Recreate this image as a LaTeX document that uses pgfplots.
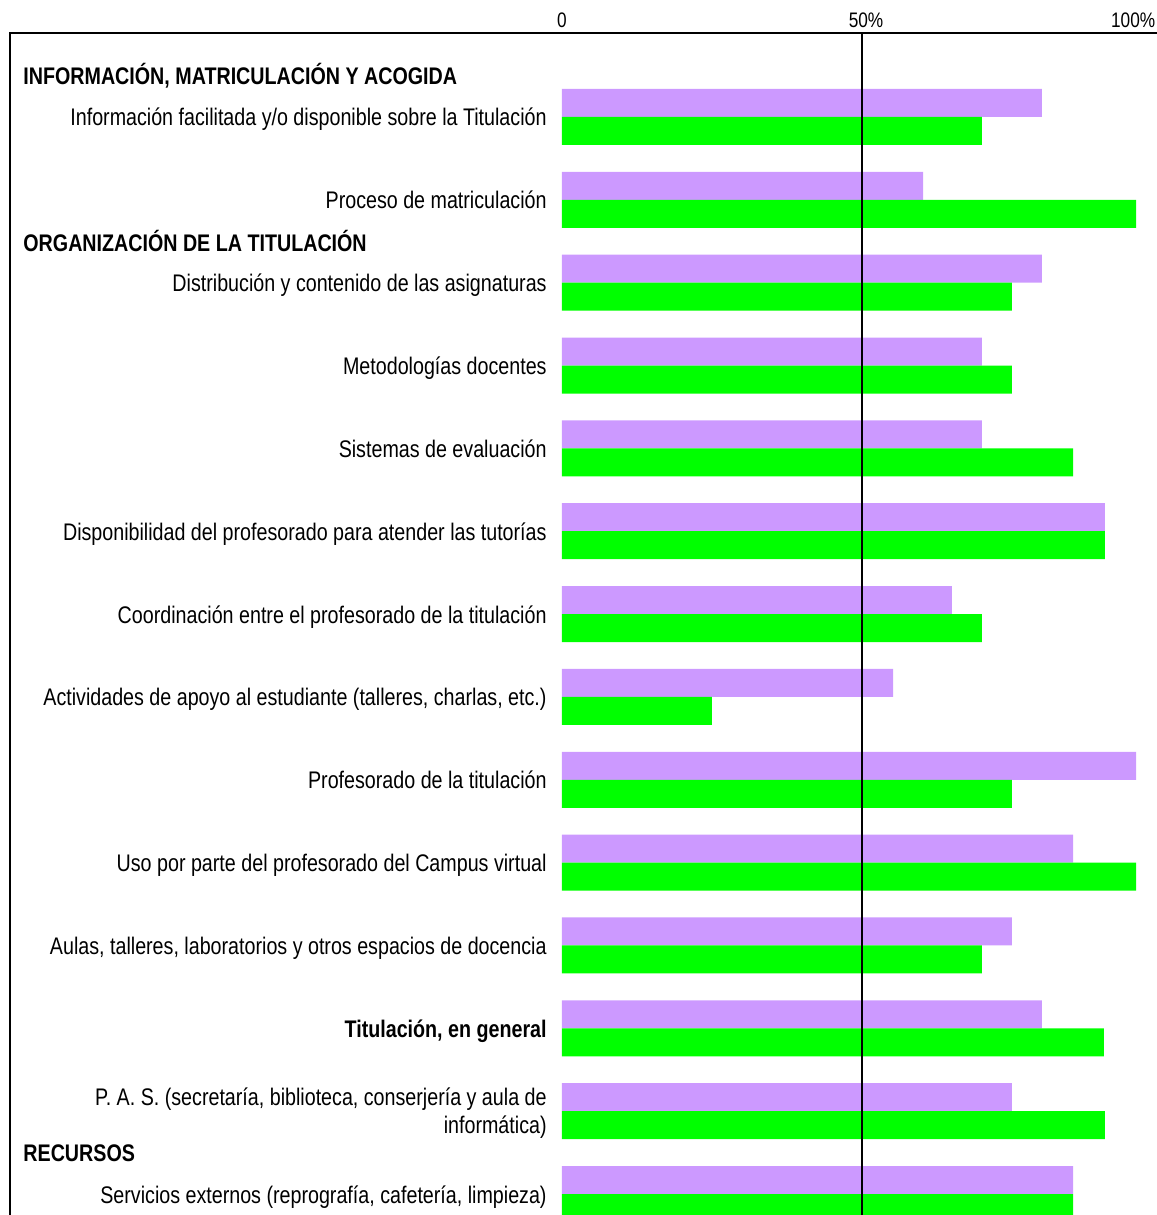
\documentclass[border=0pt]{standalone}
\usepackage{fontspec}
\setmainfont{Liberation Sans}[FakeStretch=0.82]
\usepackage{pgfplots}
\pgfplotsset{compat=1.18}
\definecolor{lila}{HTML}{CC99FF}
\definecolor{verde}{HTML}{00FF00}

\begin{document}
\begin{tikzpicture}
\begin{axis}[
    scale only axis,
    width=573.5pt, height=591pt,
    xmin=-92, xmax=99.17,
    ymin=-13.253, ymax=1.0139,
    axis line style={draw=none},
    tick style={draw=none},
    xtick={0,50.67,95.2},
    xticklabels={0,50\%,100\%},
    xticklabel pos=upper,
    xticklabel style={font=\fontsize{10.5}{12}\selectfont, anchor=base, inner sep=0pt, yshift=2.5pt},
    ytick={-13,...,0},
    yticklabels={
        Servicios externos (reprografía{,} cafetería{,} limpieza),
        {\raisebox{7.15pt}{\begin{tabular}[t]{@{}r@{}}P. A. S. (secretaría, biblioteca, conserjería y aula de\\informática)\end{tabular}}},
        \textbf{Titulación{,} en general},
        Aulas{,} talleres{,} laboratorios y otros espacios de docencia,
        Uso por parte del profesorado del Campus virtual,
        Profesorado de la titulación,
        Actividades de apoyo al estudiante (talleres{,} charlas{,} etc.),
        Coordinación entre el profesorado de la titulación,
        Disponibilidad del profesorado para atender las tutorías,
        Sistemas de evaluación,
        Metodologías docentes,
        Distribución y contenido de las asignaturas,
        Proceso de matriculación,
        Información facilitada y/o disponible sobre la Titulación
    },
    yticklabel style={font=\fontsize{12}{14}\selectfont, anchor=base east, inner sep=0pt, xshift=268.5pt, yshift=-4.5pt},
]
% filas en y = -i; lila arriba, verde abajo
\addplot[xbar, bar width=14pt, bar shift=0pt, fill=lila, draw=none] coordinates {
    (80,0.169) (60.2,-0.831) (80,-1.831) (70,-2.831) (70,-3.831)
    (90.5,-4.831) (65,-5.831) (55.2,-6.831) (95.7,-7.831) (85.2,-8.831)
    (75,-9.831) (80,-10.831) (75,-11.831) (85.2,-12.831)
};
\addplot[xbar, bar width=14pt, bar shift=0pt, fill=verde, draw=none] coordinates {
    (70,-0.169) (95.7,-1.169) (75,-2.169) (75,-3.169) (85.2,-4.169)
    (90.5,-5.169) (70,-6.169) (25,-7.169) (75,-8.169) (95.7,-9.169)
    (70,-10.169) (90.3,-11.169) (90.5,-12.169) (85.2,-13.169)
};

\node[anchor=west, inner sep=0pt, font=\bfseries\fontsize{12}{14}\selectfont] at (axis cs:-89.83,0.495) {INFORMACIÓN, MATRICULACIÓN Y ACOGIDA};
\node[anchor=west, inner sep=0pt, font=\bfseries\fontsize{12}{14}\selectfont] at (axis cs:-89.83,-1.497) {ORGANIZACIÓN DE LA TITULACIÓN};
\node[anchor=west, inner sep=0pt, font=\bfseries\fontsize{12}{14}\selectfont] at (axis cs:-89.83,-12.504) {RECURSOS};

\coordinate (tl) at (axis cs:-92,1.0139);
\coordinate (bl) at (axis cs:-92,-13.253);
\coordinate (tr) at (axis cs:99.17,1.0139);
\coordinate (br) at (axis cs:99.17,-13.253);
\coordinate (m1) at (axis cs:50,1.0139);
\coordinate (m2) at (axis cs:50,-13.253);
\end{axis}
\draw[line width=1pt] (m1) -- (m2);
\draw[line width=1.25pt] (bl) -- (tl) -- (tr);
\pgfresetboundingbox
\path ([shift={(-5pt,16.5pt)}]tl) rectangle (br);
\end{tikzpicture}
\end{document}
